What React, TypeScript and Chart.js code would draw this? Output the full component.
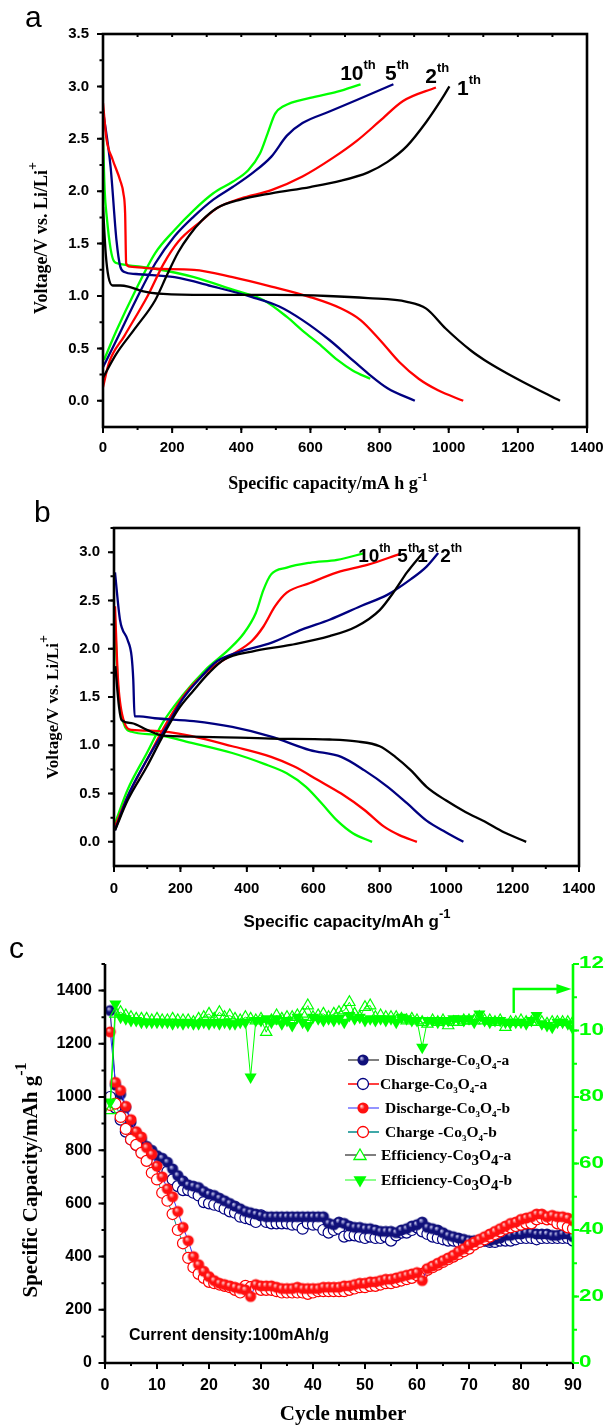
import React, { useEffect, useRef } from 'react';
import { Chart, registerables } from 'chart.js';
Chart.register(...registerables);

const SANS = '"Liberation Sans", Arial, Helvetica, sans-serif';
const SERIF = '"Liberation Serif", "Times New Roman", Times, serif';
const GREEN = '#00ff00';
const NAVY = '#000080';
const RED = '#ff0000';

// ---------------- Panel a: voltage profiles (capacity mAh/g, voltage V) ----------------
const aCycle1Discharge = [[0,1.85],[8,1.4],[16,1.18],[28,1.1],[50,1.1],[73,1.09],[110,1.05],[174,1.02],[300,1.01],[500,1.01],[650,1.0],[767,0.98],[879,0.945],[935,0.88],[991,0.69],[1064,0.48],[1103,0.39],[1159,0.28],[1215,0.18],[1322,0]];
const aCycle1Charge = [[0,0.22],[39,0.45],[95,0.7],[151,0.96],[185,1.2],[218,1.42],[250,1.58],[286,1.72],[330,1.84],[398,1.92],[487,1.98],[599,2.04],[689,2.1],[767,2.18],[823,2.28],[879,2.43],[935,2.66],[980,2.88],[1002,3.0]];
const aCycle2Discharge = [[0,2.84],[10,2.5],[28,2.3],[50,2.1],[59,1.98],[64,1.79],[67,1.31],[78,1.28],[151,1.26],[263,1.25],[375,1.18],[487,1.09],[599,0.99],[689,0.88],[745,0.77],[801,0.58],[857,0.37],[913,0.21],[969,0.1],[1042,0]];
const aCycle2Charge = [[0,0.13],[17,0.36],[62,0.62],[129,1.0],[174,1.3],[218,1.52],[286,1.72],[330,1.84],[398,1.93],[487,2.01],[577,2.14],[666,2.32],[734,2.48],[801,2.67],[868,2.86],[963,2.99]];
const aCycle5Discharge = [[0,2.77],[22,2.23],[39,1.53],[50,1.28],[62,1.23],[95,1.21],[207,1.18],[319,1.09],[431,0.99],[510,0.9],[577,0.77],[655,0.58],[711,0.42],[767,0.26],[823,0.12],[902,0]];
const aCycle5Charge = [[0,0.32],[39,0.58],[95,0.96],[151,1.31],[207,1.57],[263,1.76],[319,1.92],[375,2.04],[431,2.17],[487,2.33],[532,2.53],[577,2.65],[655,2.76],[734,2.87],[840,3.02]];
const aCycle10Discharge = [[0,2.52],[5,2.0],[11,1.75],[22,1.45],[32,1.33],[45,1.31],[151,1.26],[263,1.18],[375,1.06],[465,0.96],[532,0.8],[577,0.67],[633,0.52],[678,0.39],[722,0.29],[773,0.21]];
const aCycle10Charge = [[3,0.39],[39,0.67],[95,1.06],[151,1.41],[207,1.63],[263,1.82],[319,1.98],[375,2.09],[420,2.2],[454,2.36],[476,2.55],[498,2.74],[522,2.81],[599,2.89],[678,2.95],[745,3.02]];
const aCurveLabels = [
  { n: '10', s: 'th', x: 686, y: 3.06 },
  { n: '5', s: 'th', x: 816, y: 3.06 },
  { n: '2', s: 'th', x: 932, y: 3.03 },
  { n: '1', s: 'th', x: 1024, y: 2.92 },
];
const capacityTicks = [0, 200, 400, 600, 800, 1000, 1200, 1400];
const aVoltageTicks = [0, 0.5, 1.0, 1.5, 2.0, 2.5, 3.0, 3.5];

// ---------------- Panel b ----------------
const bCycle1Discharge = [[4,1.82],[15,1.4],[23,1.26],[53,1.23],[99,1.16],[146,1.1],[240,1.09],[473,1.07],[649,1.06],[730,1.04],[800,0.99],[847,0.88],[894,0.74],[941,0.57],[999,0.43],[1058,0.31],[1116,0.21],[1174,0.1],[1241,0]];
const bCycle1Charge = [[3,0.12],[41,0.43],[99,0.78],[146,1.09],[193,1.37],[240,1.57],[286,1.75],[333,1.89],[415,1.97],[532,2.04],[649,2.13],[730,2.23],[800,2.4],[847,2.61],[882,2.79],[929,2.99]];
const bCycle2Discharge = [[3,2.79],[18,2.3],[41,2.09],[53,1.92],[58,1.68],[62,1.3],[76,1.3],[123,1.28],[240,1.25],[356,1.19],[473,1.09],[590,0.95],[684,0.88],[754,0.74],[824,0.57],[882,0.4],[941,0.22],[999,0.1],[1052,0]];
const bCycle2Charge = [[3,0.12],[41,0.47],[99,0.85],[158,1.19],[205,1.47],[263,1.71],[310,1.87],[380,1.97],[473,2.06],[567,2.2],[649,2.3],[742,2.44],[824,2.56],[894,2.72],[941,2.85],[976,2.99]];
const bCycle5Discharge = [[3,2.44],[12,1.68],[29,1.26],[53,1.16],[123,1.15],[240,1.09],[356,0.99],[473,0.88],[543,0.78],[614,0.64],[684,0.5],[754,0.33],[812,0.16],[859,0.07],[912,0]];
const bCycle5Charge = [[3,0.16],[41,0.47],[99,0.85],[158,1.23],[216,1.54],[286,1.78],[356,1.94],[415,2.08],[450,2.23],[485,2.44],[520,2.58],[590,2.68],[672,2.79],[765,2.87],[859,2.98]];
const bCycle10Discharge = [[3,2.3],[12,1.61],[29,1.23],[53,1.14],[123,1.11],[240,1.02],[356,0.92],[450,0.81],[520,0.71],[578,0.57],[625,0.4],[672,0.22],[719,0.09],[777,0]];
const bCycle10Charge = [[3,0.19],[41,0.54],[99,0.92],[146,1.23],[205,1.51],[275,1.78],[345,1.99],[391,2.16],[427,2.37],[450,2.61],[473,2.77],[520,2.84],[590,2.89],[672,2.92],[754,2.99]];
const bCurveLabels = [
  { n: '10', s: 'th', x: 735, y: 2.9 },
  { n: '5', s: 'th', x: 853, y: 2.9 },
  { n: '1', s: 'st', x: 913, y: 2.9 },
  { n: '2', s: 'th', x: 982, y: 2.9 },
];
const bVoltageTicks = [0, 0.5, 1.0, 1.5, 2.0, 2.5, 3.0];

// ---------------- Panel c: cycling ----------------
const cycles = Array.from({ length: 90 }, (_, i) => i + 1);
const cycleTicks = [0, 10, 20, 30, 40, 50, 60, 70, 80, 90];
const capTicksC = [0, 200, 400, 600, 800, 1000, 1200, 1400];
const effTicks = [0, 20, 40, 60, 80, 100, 120];
const dischargeA = [
  1325,1045,1010,960,905,865,840,815,800,780,
  770,755,730,705,685,670,665,660,645,635,
  630,620,610,600,590,580,570,565,560,555,
  550,550,550,550,550,550,550,550,550,550,
  550,550,525,520,530,525,515,510,510,505,
  505,500,495,495,495,490,500,505,515,520,
  530,510,505,500,490,480,475,470,465,460,
  460,455,460,460,465,470,480,480,485,485,
  490,490,485,485,485,480,480,485,485,475];
const chargeA = [
  1000,960,915,870,840,820,800,790,775,755,
  735,720,690,665,650,650,640,630,605,600,
  595,590,580,570,565,550,545,540,530,555,
  530,525,525,525,525,520,520,505,525,520,
  520,500,490,500,505,475,480,480,475,470,
  475,470,470,475,460,480,490,490,500,510,
  495,485,475,470,465,460,460,455,450,455,
  455,460,460,455,455,460,460,460,465,470,
  470,470,465,470,470,470,470,470,470,460];
const dischargeB = [
  1245,1055,1025,965,915,870,850,810,785,740,
  700,655,625,570,510,460,400,370,345,325,
  310,300,295,290,285,280,275,250,295,290,
  290,290,285,280,280,280,285,280,280,280,
  280,285,285,285,285,290,290,295,300,300,
  305,305,310,315,315,320,325,330,335,340,
  310,355,365,375,385,395,405,420,430,445,
  455,465,475,485,495,505,515,525,530,540,
  545,550,560,560,550,555,550,550,545,535];
const chargeB = [
  970,975,925,880,840,820,790,760,715,690,
  640,610,560,500,450,395,360,335,320,305,
  300,295,290,285,275,265,290,285,280,275,
  275,275,270,265,265,265,265,265,260,265,
  270,270,270,270,270,270,275,280,285,285,
  290,290,295,300,300,305,310,315,320,330,
  335,350,360,370,380,390,400,410,420,430,
  445,455,465,475,485,495,505,510,515,520,
  525,525,540,545,540,540,525,520,510,505];
const efficiencyA = [
  76,105,105.5,104.5,104,103.5,103.5,103.5,103,103.5,
  103,103,103.5,103,103,103,102.5,103.5,104,105,
  103.5,105.5,104,104.5,103.5,103,104,103.5,103,103.5,
  99.5,103,104.5,103.5,104,104,104.5,105,107.5,104,
  104.5,105,104,105,105.5,106,108.5,105,104,107,
  107.5,104,104.5,104,104,104,103.5,103,103.5,103,
  102.5,102,103,102.5,103,101.5,102.5,102.5,103,103,
  103,104,103,103,102.5,103,101,102.5,102.5,103,
  102.5,102.5,102.5,102.5,102,102.5,102.5,102.5,102.5,102.5];
const efficiencyB = [
  78.5,108,104,103.5,103,103,102.5,102.5,102.5,102.5,
  102.5,102.5,102,102.5,102,102.5,102,102,102.5,102,
  102.5,102,102.5,102,102,102.5,102.5,86,103,103,
  103.5,102.5,103.5,102,103,101.5,104,102.5,101.5,104,
  103.5,103,103.5,103,103.5,102.5,104.5,103.5,104,103,
  103.5,103,103.5,103,103.5,102.5,104,103.5,103,103,
  95,103,103,102.5,103,103,103.5,103.5,103,103.5,
  102.5,105,103,102.5,103,103,102.5,102.5,102.5,102.5,
  102,103,104.5,102,101.5,101,102.5,102.5,102,100.5];
const arrowPath = [[78.6,105.3],[78.6,112.5],[89.7,112.5]];
const legendNames = [
  ['Discharge-Co', '3', 'O', '4', '-a'],
  ['Charge-Co', '3', 'O', '4', '-a'],
  ['Discharge-Co', '3', 'O', '4', '-b'],
  ['Charge -Co', '3', 'O', '4', '-b'],
  ['Efficiency-Co', '3', 'O', '4', '-a'],
  ['Efficiency-Co', '3', 'O', '4', '-b'],
];

// ---------------- helpers ----------------
type Seg = { t: string; font: string; dy?: number };
function drawRich(ctx: CanvasRenderingContext2D, segs: Seg[], x: number, y: number, align: string, color: string, angle = 0) {
  ctx.save();
  ctx.translate(x, y);
  if (angle) ctx.rotate(angle);
  ctx.fillStyle = color;
  ctx.textBaseline = 'alphabetic';
  ctx.textAlign = 'left';
  let w = 0;
  for (const s of segs) { ctx.font = s.font; w += ctx.measureText(s.t).width; }
  let cx = align === 'center' ? -w / 2 : align === 'right' ? -w : 0;
  for (const s of segs) {
    ctx.font = s.font;
    ctx.fillText(s.t, cx, s.dy || 0);
    cx += ctx.measureText(s.t).width;
  }
  ctx.restore();
}

function tickSet(ctx: CanvasRenderingContext2D, scale: any, ca: any, side: string, from: number, to: number, step: number, len: number) {
  const n = Math.round((to - from) / step);
  ctx.beginPath();
  for (let i = 0; i <= n; i++) {
    const p = scale.getPixelForValue(from + i * step);
    if (side === 'bottom') { ctx.moveTo(p, ca.bottom); ctx.lineTo(p, ca.bottom + len); }
    else if (side === 'top') { ctx.moveTo(p, ca.top); ctx.lineTo(p, ca.top + len); }
    else if (side === 'left') { ctx.moveTo(ca.left, p); ctx.lineTo(ca.left - len, p); }
    else { ctx.moveTo(ca.right, p); ctx.lineTo(ca.right + len, p); }
  }
  ctx.stroke();
}

const fixW = (w: number) => (s: any) => { s.width = w; s.paddingTop = 0; s.paddingBottom = 0; s.paddingLeft = 0; s.paddingRight = 0; };
const fixH = (h: number) => (s: any) => { s.height = h; s.paddingTop = 0; s.paddingBottom = 0; s.paddingLeft = 0; s.paddingRight = 0; };
const setTicks = (vals: number[]) => (s: any) => { s.ticks = vals.map((v) => ({ value: v })); };

function sphere(base: string, hi: string, r: number) {
  const c = document.createElement('canvas');
  const s = Math.ceil(r * 2 + 2);
  c.width = s; c.height = s;
  const g = c.getContext('2d')!;
  const m = s / 2;
  const grad = g.createRadialGradient(m - r * 0.3, m - r * 0.35, r * 0.05, m, m, r);
  grad.addColorStop(0, hi);
  grad.addColorStop(0.45, base);
  grad.addColorStop(1, base);
  g.fillStyle = grad;
  g.beginPath(); g.arc(m, m, r, 0, Math.PI * 2); g.fill();
  return c;
}

function triangle(ctx: CanvasRenderingContext2D, x: number, y: number, r: number, down: boolean, fill: string | null, stroke: string | null) {
  ctx.beginPath();
  let rad = down ? Math.PI : 0;
  for (let i = 0; i < 3; i++) {
    const px = x + Math.sin(rad) * r, py = y - Math.cos(rad) * r;
    if (i === 0) ctx.moveTo(px, py); else ctx.lineTo(px, py);
    rad += (2 * Math.PI) / 3;
  }
  ctx.closePath();
  if (fill) { ctx.fillStyle = fill; ctx.fill(); }
  if (stroke) { ctx.strokeStyle = stroke; ctx.lineWidth = 1.3; ctx.stroke(); }
}

const pts = (arr: number[][]) => arr.map(([x, y]) => ({ x, y }));
const curve = (arr: number[][], color: string) => ({
  data: pts(arr), borderColor: color, borderWidth: 2.3, pointRadius: 0,
  cubicInterpolationMode: 'monotone' as const, fill: false,
});

const tickFont = (size: number) => ({ family: SANS, size, weight: 'bold' as const });

// ---------------- chart builders ----------------
function buildA(canvas: HTMLCanvasElement) {
  const decor = {
    id: 'decorA',
    afterDraw(chart: any) {
      const { ctx, chartArea: ca, scales } = chart;
      const x = scales.x, y = scales.y;
      ctx.save();
      ctx.strokeStyle = '#000';
      ctx.lineWidth = 2;
      tickSet(ctx, x, ca, 'bottom', 0, 1400, 100, 3);
      tickSet(ctx, x, ca, 'bottom', 0, 1400, 200, 6);
      tickSet(ctx, x, ca, 'top', 0, 1400, 100, 3);
      tickSet(ctx, y, ca, 'left', 0, 3.5, 0.25, 3.5);
      tickSet(ctx, y, ca, 'left', 0, 3.5, 0.5, 6);
      ctx.lineWidth = 2.6;
      ctx.strokeRect(ca.left, ca.top, ca.right - ca.left, ca.bottom - ca.top);
      for (const l of aCurveLabels) {
        const px = x.getPixelForValue(l.x), py = y.getPixelForValue(l.y);
        drawRich(ctx, [
          { t: l.n, font: `bold 21px ${SANS}` },
          { t: l.s, font: `bold 13px ${SANS}`, dy: -11 },
        ], px, py, 'left', '#000');
      }
      drawRich(ctx, [
        { t: 'Specific capacity/mA h g', font: `bold 18px ${SERIF}` },
        { t: '-1', font: `bold 12px ${SERIF}`, dy: -8 },
      ], 328, 489, 'center', '#000');
      drawRich(ctx, [
        { t: 'Voltage/V vs. Li/Li', font: `bold 18px ${SERIF}` },
        { t: '+', font: `bold 14px ${SERIF}`, dy: -10 },
      ], 47, 238, 'center', '#000', -Math.PI / 2);
      drawRich(ctx, [{ t: 'a', font: `30px ${SANS}` }], 25, 27, 'left', '#000');
      ctx.restore();
    },
  };
  return new Chart(canvas, {
    type: 'line',
    data: {
      datasets: [
        curve(aCycle1Discharge, '#000'), curve(aCycle1Charge, '#000'),
        curve(aCycle2Discharge, RED), curve(aCycle2Charge, RED),
        curve(aCycle5Discharge, NAVY), curve(aCycle5Charge, NAVY),
        curve(aCycle10Discharge, GREEN), curve(aCycle10Charge, GREEN),
      ],
    },
    options: {
      responsive: false, animation: false,
      layout: { padding: { left: 0, right: 18, top: 34, bottom: 0 } },
      plugins: { legend: { display: false }, tooltip: { enabled: false } },
      scales: {
        x: {
          type: 'linear', min: 0, max: 1400,
          afterBuildTicks: setTicks(capacityTicks),
          ticks: { autoSkip: false, maxRotation: 0, padding: 12, color: '#000', font: tickFont(15), callback: (v: any) => String(v) },
          grid: { display: false, drawTicks: false }, border: { display: false },
          afterFit: fixH(68),
        },
        y: {
          type: 'linear', min: -0.25, max: 3.5,
          afterBuildTicks: setTicks(aVoltageTicks),
          ticks: { autoSkip: false, padding: 14, color: '#000', font: tickFont(15), callback: (v: any) => Number(v).toFixed(1) },
          grid: { display: false, drawTicks: false }, border: { display: false },
          afterFit: fixW(103),
        },
      },
    } as any,
    plugins: [decor],
  });
}

function buildB(canvas: HTMLCanvasElement) {
  const decor = {
    id: 'decorB',
    afterDraw(chart: any) {
      const { ctx, chartArea: ca, scales } = chart;
      const x = scales.x, y = scales.y;
      ctx.save();
      ctx.strokeStyle = '#000';
      ctx.lineWidth = 2;
      tickSet(ctx, x, ca, 'bottom', 0, 1400, 100, 3);
      tickSet(ctx, x, ca, 'bottom', 0, 1400, 200, 6);
      tickSet(ctx, y, ca, 'left', 0, 3.25, 0.25, 3.5);
      tickSet(ctx, y, ca, 'left', 0, 3.0, 0.5, 6);
      ctx.lineWidth = 2.6;
      ctx.strokeRect(ca.left, ca.top, ca.right - ca.left, ca.bottom - ca.top);
      for (const l of bCurveLabels) {
        const px = x.getPixelForValue(l.x), py = y.getPixelForValue(l.y);
        drawRich(ctx, [
          { t: l.n, font: `bold 19px ${SANS}` },
          { t: l.s, font: `bold 12px ${SANS}`, dy: -10 },
        ], px, py, 'left', '#000');
      }
      drawRich(ctx, [
        { t: 'Specific capacity/mAh g', font: `bold 17px ${SANS}` },
        { t: '-1', font: `bold 13px ${SANS}`, dy: -9 },
      ], 347, 432, 'center', '#000');
      drawRich(ctx, [
        { t: 'Voltage/V vs. Li/Li', font: `bold 17px ${SERIF}` },
        { t: '+', font: `bold 14px ${SERIF}`, dy: -10 },
      ], 58, 212, 'center', '#000', -Math.PI / 2);
      drawRich(ctx, [{ t: 'b', font: `30px ${SANS}` }], 34, 27, 'left', '#000');
      ctx.restore();
    },
  };
  return new Chart(canvas, {
    type: 'line',
    data: {
      datasets: [
        curve(bCycle1Discharge, '#000'), curve(bCycle1Charge, '#000'),
        curve(bCycle2Discharge, NAVY), curve(bCycle2Charge, NAVY),
        curve(bCycle5Discharge, RED), curve(bCycle5Charge, RED),
        curve(bCycle10Discharge, GREEN), curve(bCycle10Charge, GREEN),
      ],
    },
    options: {
      responsive: false, animation: false,
      layout: { padding: { left: 0, right: 26, top: 33, bottom: 0 } },
      plugins: { legend: { display: false }, tooltip: { enabled: false } },
      scales: {
        x: {
          type: 'linear', min: 0, max: 1400,
          afterBuildTicks: setTicks(capacityTicks),
          ticks: { autoSkip: false, maxRotation: 0, padding: 14, color: '#000', font: tickFont(15), callback: (v: any) => String(v) },
          grid: { display: false, drawTicks: false }, border: { display: false },
          afterFit: fixH(69),
        },
        y: {
          type: 'linear', min: -0.25, max: 3.25,
          afterBuildTicks: setTicks(bVoltageTicks),
          ticks: { autoSkip: false, padding: 14, color: '#000', font: tickFont(15), callback: (v: any) => Number(v).toFixed(1) },
          grid: { display: false, drawTicks: false }, border: { display: false },
          afterFit: fixW(114),
        },
      },
    } as any,
    plugins: [decor],
  });
}

function buildC(canvas: HTMLCanvasElement) {
  const navySphere = sphere('#10107a', '#c8c8f0', 5.6);
  const redSphere = sphere('#ff1010', '#ffd0d0', 5.6);
  const decor = {
    id: 'decorC',
    afterDraw(chart: any) {
      const { ctx, chartArea: ca, scales } = chart;
      const x = scales.x, y = scales.y, y2 = scales.y2;
      ctx.save();
      ctx.strokeStyle = '#000';
      ctx.lineWidth = 2;
      tickSet(ctx, x, ca, 'bottom', 0, 90, 5, 3);
      tickSet(ctx, x, ca, 'bottom', 0, 90, 10, 6);
      tickSet(ctx, y, ca, 'left', 0, 1500, 100, 3.5);
      tickSet(ctx, y, ca, 'left', 0, 1400, 200, 6.5);
      ctx.lineWidth = 2.6;
      ctx.beginPath();
      ctx.moveTo(ca.left, ca.top); ctx.lineTo(ca.left, ca.bottom); ctx.lineTo(ca.right, ca.bottom);
      ctx.stroke();
      // right green axis
      ctx.strokeStyle = GREEN;
      ctx.lineWidth = 2;
      tickSet(ctx, y2, ca, 'right', 0, 120, 10, 4);
      tickSet(ctx, y2, ca, 'right', 0, 120, 20, 6);
      ctx.lineWidth = 2.6;
      ctx.beginPath(); ctx.moveTo(ca.right, ca.top); ctx.lineTo(ca.right, ca.bottom); ctx.stroke();
      // right axis tick labels (wide bold green, clipped by the page edge)
      ctx.fillStyle = GREEN;
      ctx.font = `bold 16px ${SANS}`;
      ctx.textAlign = 'left';
      ctx.textBaseline = 'middle';
      for (const v of effTicks) {
        const p = y2.getPixelForValue(v);
        ctx.save();
        ctx.translate(ca.right + 6, p);
        ctx.scale(1.4, 1);
        ctx.fillText(String(v), 0, 0);
        ctx.restore();
      }
      // arrow
      ctx.lineWidth = 2.4;
      ctx.beginPath();
      arrowPath.forEach(([ax, ay], i) => {
        const px = x.getPixelForValue(ax), py = y2.getPixelForValue(ay);
        if (i === 0) ctx.moveTo(px, py); else ctx.lineTo(i === arrowPath.length - 1 ? px - 10 : px, py);
      });
      ctx.stroke();
      const tip = arrowPath[arrowPath.length - 1];
      const tx = x.getPixelForValue(tip[0]), ty = y2.getPixelForValue(tip[1]);
      ctx.fillStyle = GREEN;
      ctx.beginPath(); ctx.moveTo(tx, ty); ctx.lineTo(tx - 15, ty - 5); ctx.lineTo(tx - 15, ty + 5); ctx.closePath(); ctx.fill();
      // legend
      const rows = [
        { y: 125, l1: 348, l2: 379, m: 363, tx: 385, line: '#555555' },
        { y: 149, l1: 348, l2: 379, m: 363, tx: 380, line: RED },
        { y: 173, l1: 348, l2: 379, m: 363, tx: 385, line: '#7070ff' },
        { y: 197, l1: 348, l2: 379, m: 363, tx: 385, line: '#008b8b' },
        { y: 220, l1: 345, l2: 376, m: 360, tx: 381, line: '#555555' },
        { y: 245, l1: 345, l2: 376, m: 360, tx: 381, line: '#66ff66' },
      ];
      rows.forEach((r, i) => {
        ctx.strokeStyle = r.line; ctx.lineWidth = 1.5;
        ctx.beginPath(); ctx.moveTo(r.l1, r.y); ctx.lineTo(r.l2, r.y); ctx.stroke();
        if (i === 0) ctx.drawImage(navySphere, r.m - navySphere.width / 2, r.y - navySphere.height / 2);
        if (i === 2) ctx.drawImage(redSphere, r.m - redSphere.width / 2, r.y - redSphere.height / 2);
        if (i === 1 || i === 3) {
          ctx.beginPath(); ctx.arc(r.m, r.y, 5.5, 0, Math.PI * 2);
          ctx.fillStyle = '#fff'; ctx.fill();
          ctx.strokeStyle = i === 1 ? NAVY : RED; ctx.lineWidth = 1.3; ctx.stroke();
        }
        if (i === 4) triangle(ctx, r.m, r.y + 1, 7, false, '#fff', GREEN);
        if (i === 5) triangle(ctx, r.m, r.y, 7.5, true, GREEN, null);
        const big = i >= 4;
        const nm = legendNames[i];
        const main = `bold 15.5px ${SERIF}`;
        const sub = big ? `bold 15px ${SERIF}` : `bold 9px ${SERIF}`;
        drawRich(ctx, [
          { t: nm[0], font: main }, { t: nm[1], font: sub, dy: big ? 5 : 4 },
          { t: nm[2], font: main }, { t: nm[3], font: sub, dy: big ? 5 : 4 },
          { t: nm[4], font: main },
        ], r.tx, r.y + 5, 'left', '#000');
      });
      drawRich(ctx, [{ t: 'Current density:100mAh/g', font: `bold 16px ${SANS}` }], 129, 405, 'left', '#000');
      drawRich(ctx, [{ t: 'Cycle number', font: `bold 21px ${SERIF}` }], 343, 485, 'center', '#000');
      drawRich(ctx, [
        { t: 'Specific Capacity/mAh g', font: `bold 21px ${SERIF}` },
        { t: '-1', font: `bold 16px ${SERIF}`, dy: -11 },
      ], 37, 245, 'center', '#000', -Math.PI / 2);
      drawRich(ctx, [{ t: 'c', font: `30px ${SANS}` }], 9, 23, 'left', '#000');
      ctx.restore();
    },
  };
  const series = (vals: number[]) => cycles.map((c, i) => ({ x: c, y: vals[i] }));
  return new Chart(canvas, {
    type: 'line',
    data: {
      datasets: [
        {
          data: series(efficiencyA), yAxisID: 'y2', borderColor: GREEN, borderWidth: 1,
          pointStyle: 'triangle', pointRadius: 6.5, pointBackgroundColor: 'rgba(255,255,255,0)', pointBorderColor: GREEN, pointBorderWidth: 1.2,
        },
        {
          data: series(efficiencyB), yAxisID: 'y2', borderColor: GREEN, borderWidth: 1,
          pointStyle: 'triangle', pointRotation: 180, pointRadius: 7, pointBackgroundColor: GREEN, pointBorderColor: GREEN, pointBorderWidth: 0,
        },
        {
          data: series(dischargeB), yAxisID: 'y', borderColor: '#3030ff', borderWidth: 1,
          pointStyle: redSphere, pointRadius: 5.5,
        },
        {
          data: series(chargeB), yAxisID: 'y', borderColor: '#009090', borderWidth: 1,
          pointStyle: 'circle', pointRadius: 5.5, pointBackgroundColor: '#fff', pointBorderColor: RED, pointBorderWidth: 1.2,
        },
        {
          data: series(dischargeA), yAxisID: 'y', borderColor: NAVY, borderWidth: 1,
          pointStyle: navySphere, pointRadius: 5.5,
        },
        {
          data: series(chargeA), yAxisID: 'y', borderColor: NAVY, borderWidth: 1,
          pointStyle: 'circle', pointRadius: 5.5, pointBackgroundColor: '#fff', pointBorderColor: NAVY, pointBorderWidth: 1.2,
        },
      ],
    },
    options: {
      responsive: false, animation: false,
      layout: { padding: { left: 0, right: 0, top: 29, bottom: 0 } },
      plugins: { legend: { display: false }, tooltip: { enabled: false } },
      scales: {
        x: {
          type: 'linear', min: 0, max: 90,
          afterBuildTicks: setTicks(cycleTicks),
          ticks: { autoSkip: false, maxRotation: 0, padding: 13, color: '#000', font: tickFont(16), callback: (v: any) => String(v) },
          grid: { display: false, drawTicks: false }, border: { display: false },
          afterFit: fixH(62),
        },
        y: {
          type: 'linear', position: 'left', min: 0, max: 1500,
          afterBuildTicks: setTicks(capTicksC),
          ticks: { autoSkip: false, padding: 13, color: '#000', font: tickFont(16), callback: (v: any) => String(v) },
          grid: { display: false, drawTicks: false }, border: { display: false },
          afterFit: fixW(105),
        },
        y2: {
          type: 'linear', position: 'right', min: 0, max: 120,
          afterBuildTicks: setTicks(effTicks),
          ticks: { display: false },
          grid: { display: false, drawTicks: false }, border: { display: false },
          afterFit: fixW(32),
        },
      },
    } as any,
    plugins: [decor],
  });
}

function Panel({ top, height, build }: { top: number; height: number; build: (c: HTMLCanvasElement) => Chart }) {
  const ref = useRef<HTMLCanvasElement>(null);
  useEffect(() => {
    if (!ref.current) return;
    const chart = build(ref.current);
    return () => chart.destroy();
  }, [build]);
  return (
    <canvas
      ref={ref}
      width={605}
      height={height}
      style={{ position: 'absolute', left: 0, top, width: 605, height }}
    />
  );
}

export default function App() {
  return (
    <div style={{ position: 'absolute', left: 0, top: 0, width: 605, height: 1425, background: '#fff', overflow: 'hidden' }}>
      <Panel top={0} height={495} build={buildA} />
      <Panel top={495} height={440} build={buildB} />
      <Panel top={935} height={490} build={buildC} />
    </div>
  );
}
